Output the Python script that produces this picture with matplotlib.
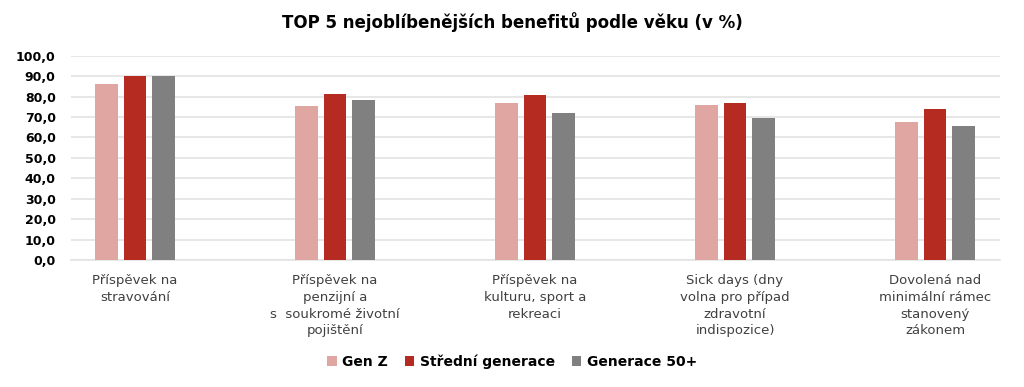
import numpy as np
import matplotlib
matplotlib.use('Agg')
import matplotlib.pyplot as plt
from matplotlib.ticker import FuncFormatter

categories = ['Příspěvek na\nstravování',
              'Příspěvek na\npenzijní a\ns  soukromé životní\npojištění',
              'Příspěvek na\nkulturu, sport a\nrekreaci',
              'Sick days (dny\nvolna pro případ\nzdravotní\nindispozice)',
              'Dovolená nad\nminimální rámec\nstanovený\nzákonem']
series_names = ['Gen Z', 'Střední generace', 'Generace 50+']
gen_z = [86.0, 75.3, 77.0, 75.8, 67.5]
stredni = [90.0, 81.5, 81.0, 77.1, 73.7]
gen_50 = [90.3, 78.3, 71.8, 69.6, 65.4]
colors = ['#E0A6A2', '#B52B22', '#808080']

plt.rcParams['font.family'] = ['DejaVu Sans']

fig = plt.figure(figsize=(10.24, 3.87), dpi=100)
ax = fig.add_axes([0.0693, 0.328, 0.9073, 0.528])

x = np.arange(len(categories))
step = 0.143
for i, (vals, name) in enumerate(zip([gen_z, stredni, gen_50], series_names)):
    ax.bar(x + (i - 1) * step, vals, width=0.112, color=colors[i], label=name, zorder=3)

ax.set_xlim(-0.32, 4.325)
ax.set_ylim(0, 100)
ax.set_yticks(np.arange(0, 101, 10))
ax.yaxis.set_major_formatter(FuncFormatter(lambda v, p: f'{v:.1f}'.replace('.', ',')))
ax.grid(axis='y', color='#E3E3E3', linewidth=1.2, zorder=0)
for s in ['top', 'right', 'left']:
    ax.spines[s].set_visible(False)
ax.spines['bottom'].set_color('#E3E3E3')
ax.spines['bottom'].set_linewidth(1.2)
ax.tick_params(axis='both', length=0)
ax.tick_params(axis='y', labelsize=9, pad=11)
for t in ax.get_yticklabels():
    t.set_fontweight('bold')
ax.set_xticks(x)
ax.set_xticklabels(categories, fontsize=9.5, color='#404040', linespacing=1.38)
ax.tick_params(axis='x', pad=10)

fig.text(0.5, 0.943, 'TOP 5 nejoblíbenějších benefitů podle věku (v %)',
         ha='center', va='center', fontsize=12, fontweight='bold')

leg = fig.legend(loc='center', bbox_to_anchor=(0.5, 0.065), ncol=3, frameon=False,
                 handlelength=0.7, handleheight=0.7, handletextpad=0.4, columnspacing=1.2,
                 prop={'weight': 'bold', 'size': 10})

fig.savefig('out.png', dpi=100)
